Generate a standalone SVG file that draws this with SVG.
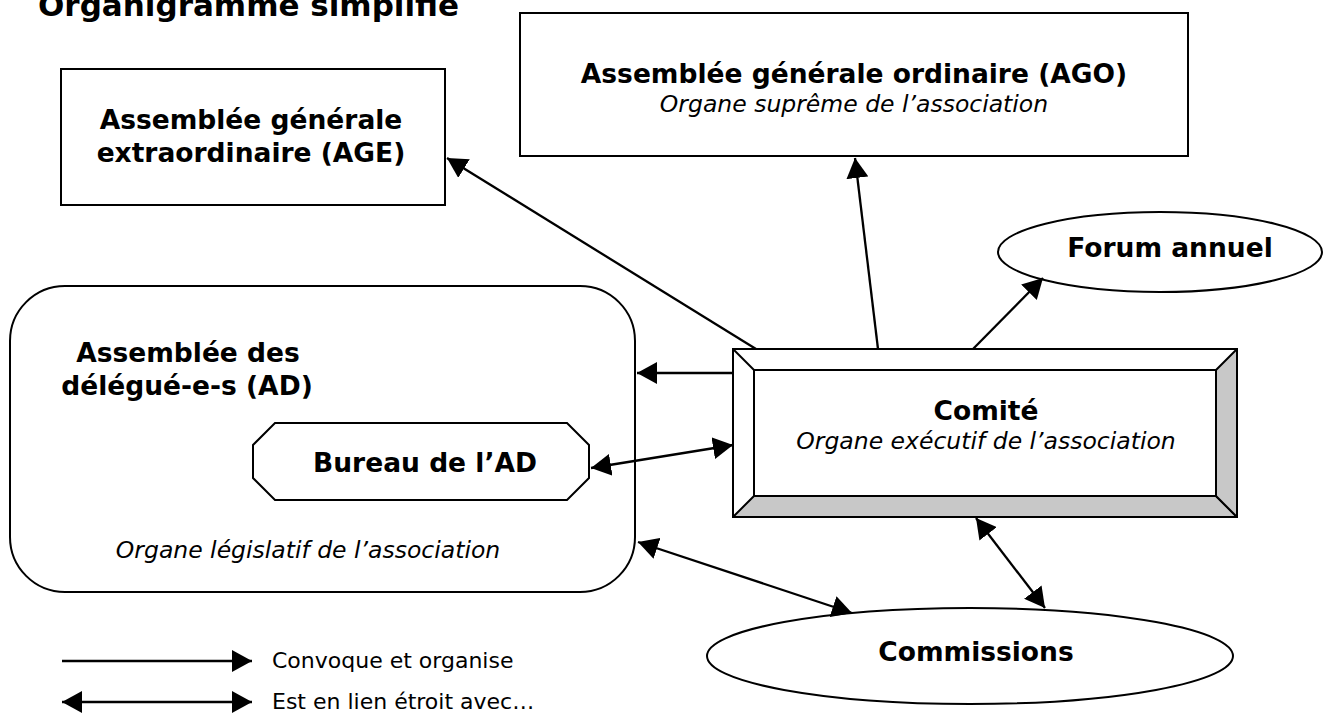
<svg xmlns="http://www.w3.org/2000/svg" width="1324" height="713" viewBox="0 0 1324 713">
<defs>
<marker id="ah" markerUnits="userSpaceOnUse" markerWidth="20" markerHeight="22" refX="20" refY="11" orient="auto-start-reverse"><path d="M0,0 L20,11 L0,22 z" fill="#000"/></marker>
<style>
.b{font-family:"DejaVu Sans",Verdana,sans-serif;font-weight:bold;font-size:26.5px;fill:#000}
.i{font-family:"DejaVu Sans",Verdana,sans-serif;font-style:italic;font-size:23.5px;fill:#000}
.r{font-family:"DejaVu Sans",Verdana,sans-serif;font-size:22px;fill:#000}
.s{fill:#fff;stroke:#000;stroke-width:2}
.c{stroke:#000;stroke-width:2.3;fill:none}
</style>
</defs>
<rect width="1324" height="713" fill="#fff"/>
<text x="38" y="16" class="b" style="font-size:31px">Organigramme simplifié</text>
<g id="age"><rect class="s" x="61" y="69" width="384" height="136"/><text class="b" text-anchor="middle" x="251" y="129">Assemblée générale</text><text class="b" text-anchor="middle" x="251" y="162">extraordinaire (AGE)</text></g>
<g id="ago"><rect class="s" x="520" y="13" width="668" height="143"/><text class="b" text-anchor="middle" x="854" y="83">Assemblée générale ordinaire (AGO)</text><text class="i" text-anchor="middle" x="854" y="112">Organe suprême de l’association</text></g>
<g id="forum"><ellipse class="s" cx="1160" cy="252" rx="162" ry="40"/><text class="b" text-anchor="middle" x="1170" y="257">Forum annuel</text></g>
<g id="ad"><rect class="s" x="10" y="286" width="625" height="306" rx="55"/><text class="b" text-anchor="middle" x="188" y="362">Assemblée des</text><text class="b" text-anchor="middle" x="187" y="395">délégué-e-s (AD)</text><text class="i" text-anchor="middle" x="308" y="558">Organe législatif de l’association</text></g>
<g id="bureau"><polygon class="s" points="275,423 567,423 589,445 589,478 567,500 275,500 253,478 253,445"/><text class="b" text-anchor="middle" x="425" y="472">Bureau de l’AD</text></g>
<g id="comite">
<rect class="s" x="733" y="349" width="504" height="168"/>
<polygon points="733,517 754,496 1216,496 1237,517" fill="#c8c8c8" stroke="#000" stroke-width="2" stroke-linejoin="round"/>
<polygon points="1237,349 1216,370 1216,496 1237,517" fill="#c8c8c8" stroke="#000" stroke-width="2" stroke-linejoin="round"/>
<line x1="733" y1="349" x2="754" y2="370" stroke="#000" stroke-width="2"/>
<rect x="754" y="370" width="462" height="126" fill="#fff" stroke="#000" stroke-width="2"/>
<text class="b" text-anchor="middle" x="986" y="420">Comité</text><text class="i" text-anchor="middle" x="986" y="449">Organe exécutif de l’association</text></g>
<g id="commissions"><ellipse class="s" cx="970" cy="656" rx="263" ry="48"/><text class="b" text-anchor="middle" x="976" y="661">Commissions</text></g>
<g id="connectors">
<path class="c" d="M756,349 L447,158" marker-end="url(#ah)"/>
<path class="c" d="M878,349 L855,158" marker-end="url(#ah)"/>
<path class="c" d="M973,349 L1043,278" marker-end="url(#ah)"/>
<path class="c" d="M733,373 L637,373" marker-end="url(#ah)"/>
<path class="c" d="M591,468 L733,445" marker-start="url(#ah)" marker-end="url(#ah)"/>
<path class="c" d="M638,542 L852,613" marker-start="url(#ah)" marker-end="url(#ah)"/>
<path class="c" d="M976,518 L1045,608" marker-start="url(#ah)" marker-end="url(#ah)"/>
</g>
<g id="legend">
<path class="c" d="M62,661 L252,661" marker-end="url(#ah)"/>
<path class="c" d="M62,702 L252,702" marker-start="url(#ah)" marker-end="url(#ah)"/>
<text class="r" x="272" y="668">Convoque et organise</text>
<text class="r" x="272" y="709">Est en lien étroit avec…</text>
</g>
</svg>
